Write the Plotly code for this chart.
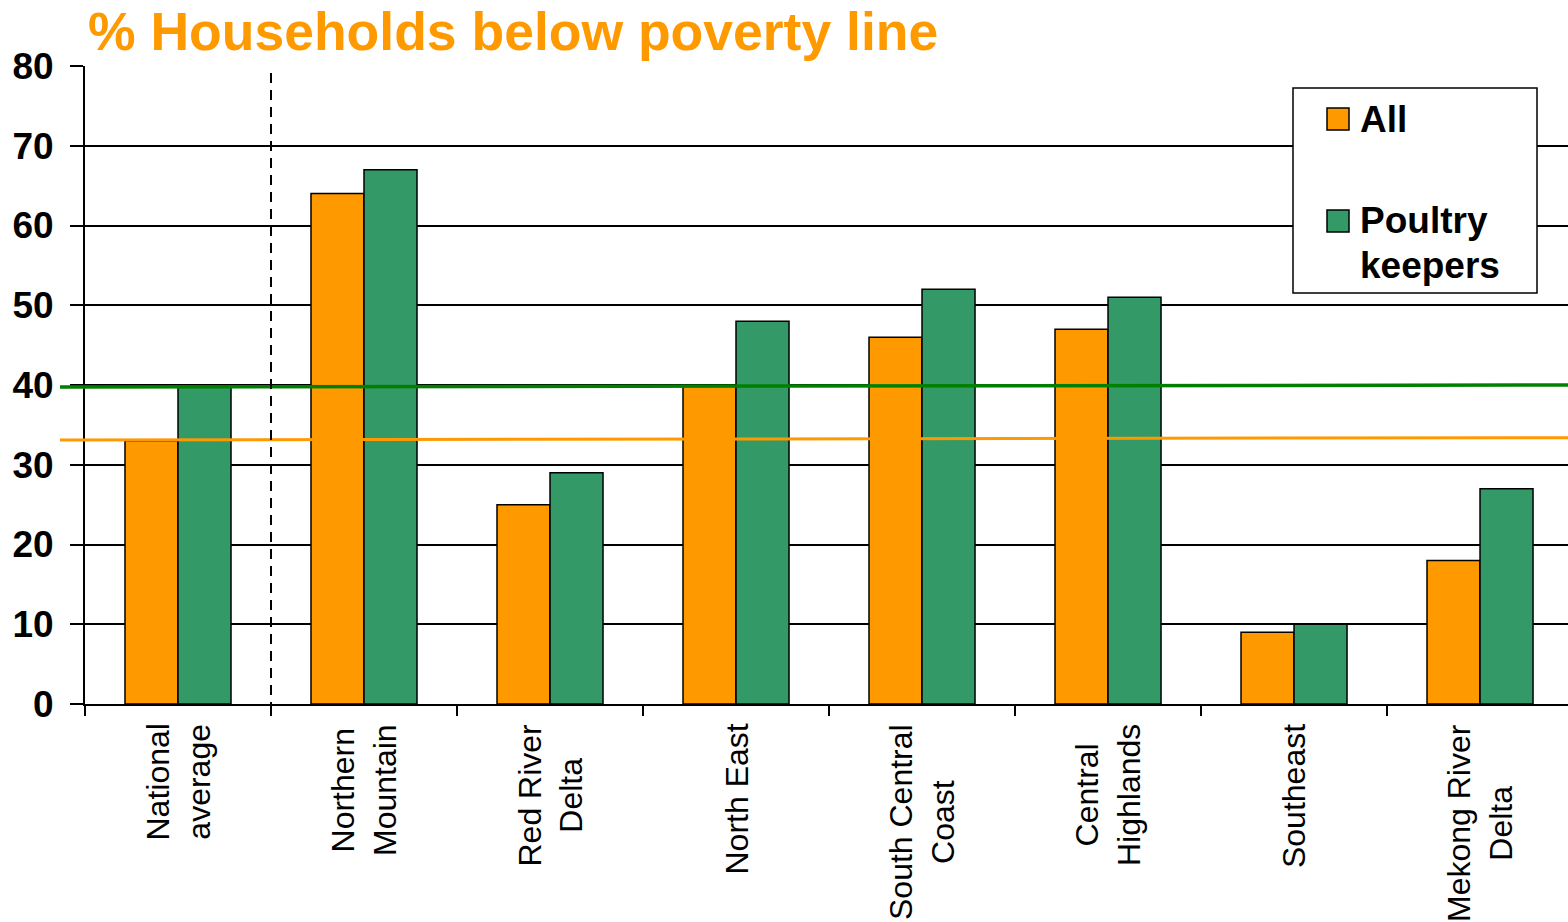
import plotly.graph_objects as go

# Regions shown on the category axis
regions = [
    "National average", "Northern Mountain", "Red River Delta", "North East",
    "South Central Coast", "Central Highlands", "Southeast", "Mekong River Delta",
]
region_labels = [
    "National<br>average", "Northern<br>Mountain", "Red River<br>Delta", "North East",
    "South Central<br>Coast", "Central<br>Highlands", "Southeast", "Mekong River<br>Delta",
]

# % of households below the poverty line
all_households = [33, 64, 25, 40, 46, 47, 9, 18]
poultry_keepers = [40, 67, 29, 48, 52, 51, 10, 27]

# Reference lines (left end, right end) for the national levels
national_line_all = [33.1, 33.4]
national_line_poultry = [39.75, 40.0]

ORANGE = "#FF9900"
GREEN = "#339966"
FONT = "Liberation Sans, Arial, sans-serif"

W, H = 1568, 922
ML, MR, MT, MB = 85, 0, 66, 218
PW, PH = W - ML - MR, H - MT - MB


def px_x(px):
    return (px - ML) / PW


def px_y(py):
    return (H - MB - py) / PH


fig = go.Figure()
fig.add_trace(go.Bar(
    x=regions, y=all_households, name="All",
    marker=dict(color=ORANGE, line=dict(color="black", width=1.5)),
))
fig.add_trace(go.Bar(
    x=regions, y=poultry_keepers, name="Poultry keepers",
    marker=dict(color=GREEN, line=dict(color="black", width=1.5)),
))

shapes = []
# national-level lines across the whole chart
shapes.append(dict(type="line", xref="paper", yref="y",
                   x0=px_x(60), x1=1.0, y0=national_line_all[0], y1=national_line_all[1],
                   line=dict(color=ORANGE, width=3), layer="above"))
shapes.append(dict(type="line", xref="paper", yref="y",
                   x0=px_x(60), x1=1.0, y0=national_line_poultry[0], y1=national_line_poultry[1],
                   line=dict(color="#008000", width=3.5), layer="above"))
# dashed separator after the national average
shapes.append(dict(type="line", xref="x", yref="paper",
                   x0=0.5, x1=0.5, y0=px_y(712), y1=px_y(70),
                   line=dict(color="black", width=2, dash="10px,7px"), layer="above"))

# legend box
shapes.append(dict(type="rect", xref="paper", yref="paper",
                   x0=px_x(1293), x1=px_x(1537), y0=px_y(293), y1=px_y(88),
                   fillcolor="white", line=dict(color="black", width=1.5), layer="above"))
shapes.append(dict(type="rect", xref="paper", yref="paper",
                   x0=px_x(1327), x1=px_x(1349), y0=px_y(130), y1=px_y(108),
                   fillcolor=ORANGE, line=dict(color="black", width=1.5), layer="above"))
shapes.append(dict(type="rect", xref="paper", yref="paper",
                   x0=px_x(1327), x1=px_x(1349), y0=px_y(232), y1=px_y(210),
                   fillcolor=GREEN, line=dict(color="black", width=1.5), layer="above"))

legend_font = dict(family=FONT, size=37, color="black", weight="bold")
annotations = []
annotations.append(dict(
    text="% Households below poverty line", xref="paper", yref="paper",
    x=px_x(86), y=px_y(31), xanchor="left", yanchor="middle", showarrow=False,
    font=dict(family=FONT, size=53.5, color=ORANGE, weight="bold"),
))
annotations.append(dict(
    text="All", xref="paper", yref="paper", x=px_x(1358), y=px_y(119),
    xanchor="left", yanchor="middle", showarrow=False, align="left", font=legend_font,
))
annotations.append(dict(
    text="Poultry", xref="paper", yref="paper", x=px_x(1358), y=px_y(220),
    xanchor="left", yanchor="middle", showarrow=False, align="left", font=legend_font,
))
annotations.append(dict(
    text="keepers", xref="paper", yref="paper", x=px_x(1358), y=px_y(265),
    xanchor="left", yanchor="middle", showarrow=False, align="left", font=legend_font,
))
for name, label in zip(regions, region_labels):
    annotations.append(dict(
        text=label, xref="x", yref="paper", x=name, y=px_y(722),
        xanchor="center", yanchor="top", textangle=-90, align="center",
        showarrow=False, font=dict(family=FONT, size=32, color="black"),
    ))

fig.update_layout(
    width=W, height=H,
    margin=dict(l=ML, r=MR, t=MT, b=MB, pad=0),
    paper_bgcolor="white", plot_bgcolor="white",
    barmode="group", bargap=0.43, bargroupgap=0,
    showlegend=False,
    shapes=shapes, annotations=annotations,
    font=dict(family=FONT, color="black"),
)
fig.update_xaxes(
    type="category", range=[-0.5, 7.473],
    showticklabels=False, ticks="outside", tickson="boundaries",
    ticklen=10, tickwidth=2, tickcolor="black",
    showline=True, linecolor="black", linewidth=2,
    showgrid=False, zeroline=False,
)
fig.update_yaxes(
    range=[0, 80], dtick=10, tick0=0,
    ticks="outside", ticklen=13, tickwidth=2, tickcolor="black",
    showline=True, linecolor="black", linewidth=2,
    showgrid=True, gridcolor="black", gridwidth=2, zeroline=False,
    tickfont=dict(family=FONT, size=37, color="black", weight="bold"),
    ticklabelstandoff=9,
)

fig.write_html("out.html")
